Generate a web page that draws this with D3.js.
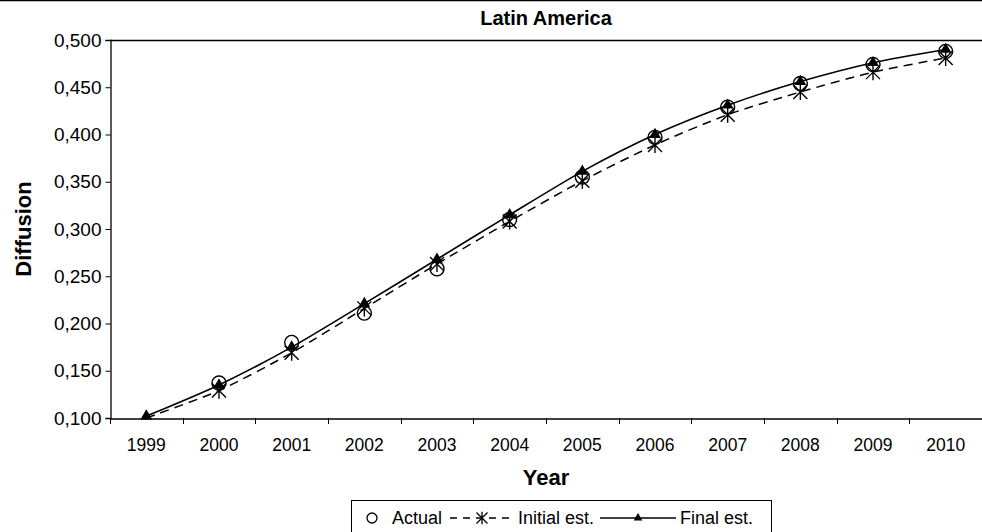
<!DOCTYPE html>
<html>
<head>
<meta charset="utf-8">
<script src="https://cdn.jsdelivr.net/npm/d3@7/dist/d3.min.js"></script>
<style>
  html, body { margin: 0; padding: 0; background: #fff; }
  svg { display: block; font-family: "Liberation Sans", Arial, sans-serif; }
</style>
</head>
<body>
<svg id="chart" width="982" height="532"></svg>
<script>
const years = ["1999","2000","2001","2002","2003","2004","2005","2006","2007","2008","2009","2010"];
const actual  = [null, 0.137, 0.180, 0.211, 0.258, 0.310, 0.355, 0.397, 0.429, 0.454, 0.474, 0.488];
const initialEst = [0.100, 0.129, 0.169, 0.216, 0.263, 0.308, 0.351, 0.389, 0.421, 0.445, 0.466, 0.481];
const finalEst   = [0.102, 0.135, 0.175, 0.221, 0.268, 0.315, 0.361, 0.400, 0.431, 0.456, 0.476, 0.490];
const yTicks = [0.100, 0.150, 0.200, 0.250, 0.300, 0.350, 0.400, 0.450, 0.500];
const title = "Latin America";
const xTitle = "Year";
const yTitle = "Diffusion";
const legendLabels = ["Actual", "Initial est.", "Final est."];

const svg = d3.select("#chart");
const L = 110, R = 982, T = 40, B = 418;
const FONT = "Liberation Sans, Arial, sans-serif";

const x = d3.scaleBand().domain(years).range([L, R]).padding(0);
const y = d3.scaleLinear().domain([0.1, 0.5]).range([B, T]);
const cx = d => x(d) + x.bandwidth() / 2;

const loc = d3.formatLocale({decimal: ",", thousands: ".", grouping: [3], currency: ["", ""]});
const fmt = loc.format(".3f");

// top frame line
svg.append("line").attr("x1", 0).attr("x2", 982).attr("y1", 0.5).attr("y2", 0.5)
  .attr("stroke", "#000").attr("stroke-width", 1.5);

// plot top border
svg.append("line").attr("x1", L).attr("x2", R).attr("y1", T + 0.5).attr("y2", T + 0.5)
  .attr("stroke", "#000").attr("stroke-width", 1.3);

// title
svg.append("text").attr("x", (L + R) / 2).attr("y", 25).attr("text-anchor", "middle")
  .attr("font-weight", "bold").attr("font-size", 20).text(title);

// y axis
const yAxis = d3.axisLeft(y).tickValues(yTicks).tickFormat(fmt).tickSize(5).tickPadding(4);
const gy = svg.append("g").attr("transform", `translate(${L + 0.5},0)`).call(yAxis);
gy.select(".domain").attr("stroke", "#000").attr("stroke-width", 1.3);
gy.selectAll(".tick line").attr("stroke", "#000");
gy.selectAll(".tick text").attr("font-size", 19).attr("fill", "#000").attr("font-family", FONT);

// x axis labels
const xAxis = d3.axisBottom(x).tickSize(0).tickPadding(20);
const gx = svg.append("g").attr("transform", `translate(0,${B + 0.5})`).call(xAxis);
gx.select(".domain").attr("stroke", "#000").attr("stroke-width", 1.3);
gx.selectAll(".tick text").attr("font-size", 17.5).attr("fill", "#000").attr("font-family", FONT);
// x tick marks at category boundaries
const bounds = years.map(d => x(d)).concat([R]);
svg.append("g").selectAll("line").data(bounds).join("line")
  .attr("x1", d => Math.round(d) + 0.5).attr("x2", d => Math.round(d) + 0.5)
  .attr("y1", B).attr("y2", B + 6).attr("stroke", "#000").attr("stroke-width", 1);

// axis titles
svg.append("text").attr("x", (L + R) / 2).attr("y", 485).attr("text-anchor", "middle")
  .attr("font-weight", "bold").attr("font-size", 22).text(xTitle);
svg.append("text").attr("transform", `translate(31,${(T + B) / 2}) rotate(-90)`)
  .attr("text-anchor", "middle").attr("font-weight", "bold").attr("font-size", 22).text(yTitle);

// markers
function asteriskPath(s) {
  return `M${-s},${-s}L${s},${s}M${-s},${s}L${s},${-s}M0,${-s*1.15}L0,${s*1.15}`;
}
const triPath = d3.symbol().type(d3.symbolTriangle).size(60)();

const line = d3.line().x((d, i) => cx(years[i])).y(d => y(d)).curve(d3.curveCardinal.tension(0.3));

// actual circles
const actualPts = actual.map((v, i) => ({year: years[i], v})).filter(d => d.v != null);
svg.append("g").selectAll("circle").data(actualPts).join("circle")
  .attr("cx", d => cx(d.year)).attr("cy", d => y(d.v)).attr("r", 7)
  .attr("fill", "none").attr("stroke", "#000").attr("stroke-width", 1.4);

// initial estimate dashed line + stars (no marker at the starting point)
svg.append("path").datum(initialEst).attr("d", line).attr("fill", "none")
  .attr("stroke", "#000").attr("stroke-width", 1.5).attr("stroke-dasharray", "9,6");
const initPts = initialEst.map((v, i) => ({year: years[i], v})).slice(1);
svg.append("g").selectAll("path").data(initPts).join("path")
  .attr("transform", d => `translate(${cx(d.year)},${y(d.v)})`)
  .attr("d", asteriskPath(7)).attr("stroke", "#000").attr("stroke-width", 1.4).attr("fill", "none");

// final estimate solid line + triangles
svg.append("path").datum(finalEst).attr("d", line).attr("fill", "none")
  .attr("stroke", "#000").attr("stroke-width", 1.6);
svg.append("g").selectAll("path").data(finalEst).join("path")
  .attr("transform", (d, i) => `translate(${cx(years[i])},${y(d)})`)
  .attr("d", triPath).attr("fill", "#000");

// legend
const lg = svg.append("g");
lg.append("rect").attr("x", 351.5).attr("y", 500.5).attr("width", 420).attr("height", 40)
  .attr("fill", "#fff").attr("stroke", "#000").attr("stroke-width", 1);
const ly = 518;
lg.append("circle").attr("cx", 372).attr("cy", ly).attr("r", 5).attr("fill", "none")
  .attr("stroke", "#000").attr("stroke-width", 1.3);
lg.append("text").attr("x", 392).attr("y", ly + 6).attr("font-size", 18).text(legendLabels[0]);
lg.append("line").attr("x1", 450).attr("x2", 514).attr("y1", ly).attr("y2", ly)
  .attr("stroke", "#000").attr("stroke-width", 1.3).attr("stroke-dasharray", "7,6");
lg.append("path").attr("transform", `translate(482,${ly})`).attr("d", asteriskPath(5.5))
  .attr("stroke", "#000").attr("stroke-width", 1.3);
lg.append("text").attr("x", 518).attr("y", ly + 6).attr("font-size", 18).text(legendLabels[1]);
lg.append("line").attr("x1", 600).attr("x2", 676).attr("y1", ly).attr("y2", ly)
  .attr("stroke", "#000").attr("stroke-width", 1.3);
lg.append("path").attr("transform", `translate(638,${ly})`)
  .attr("d", d3.symbol().type(d3.symbolTriangle).size(32)()).attr("fill", "#000");
lg.append("text").attr("x", 680).attr("y", ly + 6).attr("font-size", 18).text(legendLabels[2]);
</script>
</body>
</html>
